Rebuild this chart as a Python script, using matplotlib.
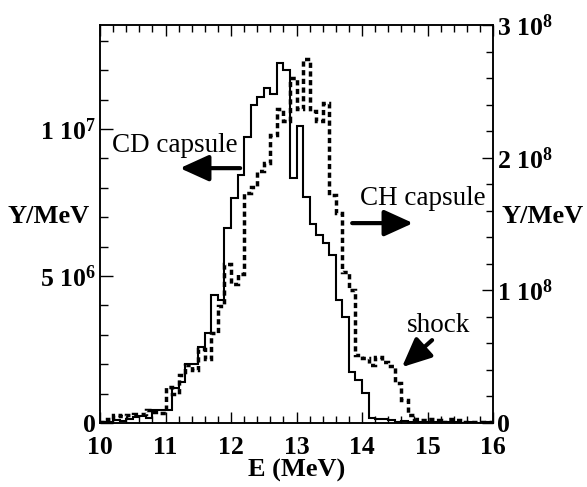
import numpy as np
import matplotlib
matplotlib.use("Agg")
import matplotlib.pyplot as plt
from matplotlib.ticker import FixedLocator, MultipleLocator

plt.rcParams["font.family"] = ["Liberation Serif", "DejaVu Serif"]
plt.rcParams["mathtext.fontset"] = "custom"
plt.rcParams["mathtext.rm"] = "Liberation Serif:bold"
plt.rcParams["mathtext.it"] = "Liberation Serif:bold"
plt.rcParams["mathtext.bf"] = "Liberation Serif:bold"

# bin edges in MeV (0.1 MeV bins)
energy_edges = [
    10.0, 10.1, 10.2, 10.3, 10.4, 10.5, 10.6, 10.7, 10.8, 10.9,
    11.0, 11.1, 11.2, 11.3, 11.4, 11.5, 11.6, 11.7, 11.8, 11.9,
    12.0, 12.1, 12.2, 12.3, 12.4, 12.5, 12.6, 12.7, 12.8, 12.9,
    13.0, 13.1, 13.2, 13.3, 13.4, 13.5, 13.6, 13.7, 13.8, 13.9,
    14.0, 14.1, 14.2, 14.3, 14.4, 14.5, 14.6, 14.7, 14.8, 14.9,
    15.0, 15.1, 15.2, 15.3, 15.4, 15.5, 15.6, 15.7, 15.8, 15.9,
    16.0,
]

# CD capsule yield per MeV (left axis), units of 1e6
cd_yield = [
    0.03, 0.05, 0.10, 0.08, 0.15, 0.22, 0.25, 0.18, 0.45, 0.45,
    0.45, 1.20, 1.40, 2.00, 2.00, 2.58, 3.06, 4.35, 4.18, 6.63,
    7.65, 8.44, 9.73, 10.82, 11.10, 11.40, 11.20, 12.24, 12.00, 8.35,
    10.10, 7.69, 6.78, 6.40, 6.12, 5.71, 4.18, 3.61, 1.73, 1.46,
    1.02, 0.17, 0.12, 0.15, 0.10, 0.04, 0.08, 0.05, 0.03, 0.05,
    0.02, 0.03, 0.02, 0.04, 0.02, 0.01, 0.02, 0.01, 0.01, 0.02,
]

# CH capsule yield per MeV (right axis), units of 1e8
ch_yield = [
    0.01, 0.03, 0.06, 0.05, 0.06, 0.07, 0.07, 0.10, 0.08, 0.075,
    0.27, 0.22, 0.36, 0.44, 0.40, 0.56, 0.48, 0.68, 0.88, 1.20,
    1.05, 1.12, 1.73, 1.78, 1.90, 1.96, 2.17, 2.37, 2.28, 2.60,
    2.37, 2.74, 2.35, 2.28, 2.41, 1.72, 1.58, 1.14, 1.00, 0.51,
    0.49, 0.44, 0.50, 0.46, 0.43, 0.30, 0.17, 0.06, 0.03, 0.02,
    0.03, 0.02, 0.01, 0.03, 0.02, 0.01, 0.01, 0.01, 0.01, 0.01,
]

left_ticks = [0, 5e6, 1e7]
left_labels = ["0", "5 10$^{6}$", "1 10$^{7}$"]
right_ticks = [0, 1e8, 2e8, 3e8]
right_labels = ["0", "1 10$^{8}$", "2 10$^{8}$", "3 10$^{8}$"]
x_ticks = [10, 11, 12, 13, 14, 15, 16]

fig = plt.figure(figsize=(5.87, 4.87), dpi=100)
ax = fig.add_axes([100 / 587, 64 / 487, 393 / 587, 398 / 487])
ax2 = ax.twinx()

ax.stairs(np.array(cd_yield) * 1e6, energy_edges, color="k", lw=1.5)
ax2.stairs(np.array(ch_yield) * 1e8, energy_edges, color="k", lw=2.5,
           linestyle=(0, (1.5, 1.0)))

ax.set_xlim(10, 16)
ax.set_ylim(0, 13.54e6)
ax2.set_ylim(0, 3e8)

tick_font = dict(fontsize=18.5, fontweight="bold")
ax.xaxis.set_major_locator(FixedLocator(x_ticks))
ax.xaxis.set_minor_locator(MultipleLocator(0.2))
ax.set_xticklabels([str(t) for t in x_ticks], **tick_font)
ax.yaxis.set_major_locator(FixedLocator(left_ticks))
ax.yaxis.set_minor_locator(MultipleLocator(1e6))
ax.set_yticklabels(left_labels, **tick_font)
ax2.yaxis.set_major_locator(FixedLocator(right_ticks))
ax2.yaxis.set_minor_locator(MultipleLocator(2e7))
ax2.set_yticklabels(right_labels, **tick_font)

ax.tick_params(axis="x", which="both", direction="in", top=True, bottom=True, pad=9)
ax.tick_params(axis="x", which="major", length=8, width=1)
ax.tick_params(axis="x", which="minor", length=5, width=1)
ax.tick_params(axis="y", which="both", direction="in", left=True, right=False, pad=3)
ax.tick_params(axis="y", which="major", length=9.5, width=1)
ax.tick_params(axis="y", which="minor", length=5.5, width=1)
ax2.tick_params(axis="y", which="both", direction="in", right=True, pad=3)
ax2.tick_params(axis="y", which="major", length=8, width=1)
ax2.tick_params(axis="y", which="minor", length=5, width=1)
for a in (ax, ax2):
    for s in a.spines.values():
        s.set_linewidth(1.1)

label_font = dict(fontsize=19, fontweight="bold")
ax.set_xlabel("E (MeV)", labelpad=0, **label_font)
ax.set_ylabel("Y/MeV", rotation=0, ha="center", va="center", **label_font)
ax.yaxis.set_label_coords(-0.13, 0.518)
ax2.set_ylabel("Y/MeV", rotation=0, ha="center", va="center", **label_font)
ax2.yaxis.set_label_coords(1.127, 0.518)

# annotations (data coords of the left axis)
arrow = dict(arrowstyle="-|>,head_length=1.1,head_width=0.5", color="k",
             lw=3, mutation_scale=16, shrinkA=0, shrinkB=0)
ax.text(10.19, 9.22e6, "CD capsule", fontsize=19.5, ha="left", va="baseline")
ax.annotate("", xy=(11.22, 8.67e6), xytext=(12.14, 8.67e6), arrowprops=arrow)
ax.text(13.97, 7.41e6, "CH capsule", fontsize=19.5, ha="left", va="baseline")
ax.annotate("", xy=(14.78, 6.80e6), xytext=(13.85, 6.80e6), arrowprops=arrow)
ax.text(14.69, 3.10e6, "shock", fontsize=19.5, ha="left", va="baseline")
ax.annotate("", xy=(14.61, 1.90e6), xytext=(15.07, 2.82e6), arrowprops=arrow)

fig.savefig("out.png", dpi=100)
